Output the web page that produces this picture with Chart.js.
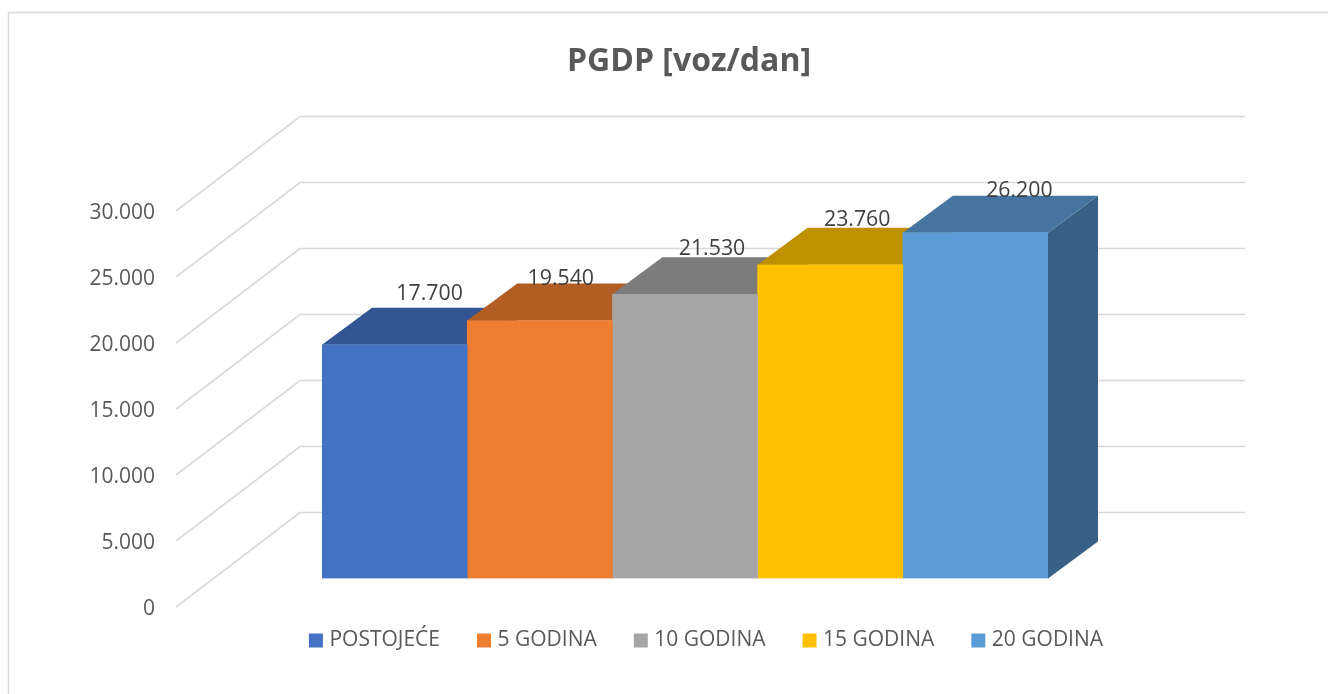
<!DOCTYPE html>
<html><head><meta charset="utf-8">
<style>html,body{margin:0;padding:0;background:#fff;overflow:hidden}canvas{display:block}</style>
<script src="https://cdn.jsdelivr.net/npm/chart.js@4"></script>
</head><body><canvas id="c" width="1328" height="694"></canvas>
<script>
const titleText = 'PGDP [voz/dan]';
const categories = ['PGDP'];
const seriesNames = ['POSTOJEĆE', '5 GODINA', '10 GODINA', '15 GODINA', '20 GODINA'];
const seriesValues = [17700, 19540, 21530, 23760, 26200];
const frontColors = ['#4472C4', '#ED7D31', '#A5A5A5', '#FFC000', '#5B9BD5'];
const topColors = ['#335593', '#B25D23', '#7C7C7C', '#BF9000', '#4675A1'];
const sideColors = ['#2A4A85', '#9E5120', '#6E6E6E', '#A88000', '#386285'];
const labelShiftX = [35, 21, 27, 27, 44];
const labelShiftY = [-50.5, -41.5, -45.5, -44.5, -41.5];

const DEPTH_X = 50, DEPTH_Y = -37;          // bar depth
const fmt = v => Number(v).toLocaleString('de-DE');
const poly = (ctx, pts, fill) => {
  ctx.beginPath(); pts.forEach((p, i) => i ? ctx.lineTo(p[0], p[1]) : ctx.moveTo(p[0], p[1]));
  ctx.closePath(); ctx.fillStyle = fill; ctx.fill();
};
const frame3d = {
  id: 'frame3d',
  afterLayout(chart) {
    const t = chart.titleBlock, l = chart.legend;
    t.left = 689 - 400; t.right = 689 + 400;
    l.left = 708 - 500; l.right = 708 + 500;
    const lh = l.bottom - l.top; l.top = 589; l.bottom = 589 + lh;
    const th = t.bottom - t.top; t.top = 43; t.bottom = 43 + th;
  },
  beforeDraw(chart) {
    const c = chart.ctx;
    c.save();
    c.strokeStyle = '#D9D9D9'; c.lineWidth = 1.5;
    c.beginPath(); c.moveTo(8.5, 700); c.lineTo(8.5, 12.5); c.lineTo(1340, 12.5); c.stroke();
    c.restore();
  },
  beforeDatasetsDraw(chart) {
    const c = chart.ctx, y = chart.scales.y;
    const backX0 = chart.chartArea.left - 22, backX1 = chart.chartArea.right + 197;
    const frontX = chart.chartArea.left - 146;
    c.save();
    c.strokeStyle = '#D9D9D9'; c.lineWidth = 1.6;
    y.ticks.forEach(t => {
      const py = y.getPixelForValue(t.value);
      c.beginPath();
      c.moveTo(frontX, py + 28.5);
      c.lineTo(backX0, py - 66);
      c.lineTo(backX1, py - 66);
      c.stroke();
    });
    chart.data.datasets.forEach((ds, i) => {
      const b = chart.getDatasetMeta(i).data[0];
      const l = b.x - b.width / 2, r = b.x + b.width / 2, tp = b.y, bt = b.base;
      poly(c, [[r, tp], [r + DEPTH_X, tp + DEPTH_Y], [r + DEPTH_X, bt + DEPTH_Y], [r, bt]], sideColors[i]);
      poly(c, [[l, tp], [l + DEPTH_X, tp + DEPTH_Y], [r + DEPTH_X, tp + DEPTH_Y], [r, tp]], topColors[i]);
    });
    c.restore();
  },
  afterDatasetsDraw(chart) {
    const c = chart.ctx;
    c.save();
    c.font = '21.3px "Open Sans"'; c.fillStyle = '#404040';
    c.textAlign = 'center'; c.textBaseline = 'middle';
    chart.data.datasets.forEach((ds, i) => {
      const b = chart.getDatasetMeta(i).data[0];
      c.fillText(fmt(ds.data[0]), b.x + labelShiftX[i], b.y + labelShiftY[i]);
    });
    c.restore();
  }
};
const chart = new Chart(document.getElementById('c'), {
  type: 'bar',
  data: {
    labels: categories,
    datasets: seriesNames.map((n, i) => ({
      label: n, data: [seriesValues[i]], backgroundColor: frontColors[i],
      barPercentage: 1, categoryPercentage: 1
    }))
  },
  options: {
    responsive: false, animation: false, events: [],
    layout: { padding: { top: 0, left: 0, right: 280, bottom: 0 } },
    scales: {
      x: { display: false, offset: true },
      y: {
        min: 0, max: 30000,
        grid: { display: false, drawTicks: false }, border: { display: false },
        afterFit(s) { s.width = 322; s.paddingTop = 0; s.paddingBottom = 0; },
        ticks: { stepSize: 5000, autoSkip: false, padding: 167, labelOffset: 30.5,
          color: '#595959', font: { family: '"Open Sans"', size: 21 }, callback: fmt }
      }
    },
    plugins: {
      tooltip: { enabled: false },
      title: { display: true, text: titleText, color: '#595959',
        font: { family: '"Open Sans"', size: 32, weight: 'bold' }, padding: { top: 0, bottom: 10 } },
      legend: { position: 'bottom', labels: {
        color: '#595959', font: { family: '"Open Sans"', size: 21 },
        boxWidth: 6, boxHeight: 6, padding: 41,
        generateLabels(ch) {
          return ch.data.datasets.map((d, i) => ({ text: d.label, fillStyle: frontColors[i],
            strokeStyle: frontColors[i], lineWidth: 8, fontColor: '#595959', datasetIndex: i, hidden: false }));
        }
      } }
    }
  },
  plugins: [frame3d]
});
// settle the plot box on the front plane of the bars
for (let k = 0; k < 3; k++) {
  const ca = chart.chartArea, pad = chart.options.layout.padding;
  const top = pad.top + 182.5 - ca.top, bottom = pad.bottom + ca.bottom - 578.5;
  chart.options.layout.padding = { top, bottom, left: 0, right: 280 };
  chart.update('none');
}
</script></body></html>
